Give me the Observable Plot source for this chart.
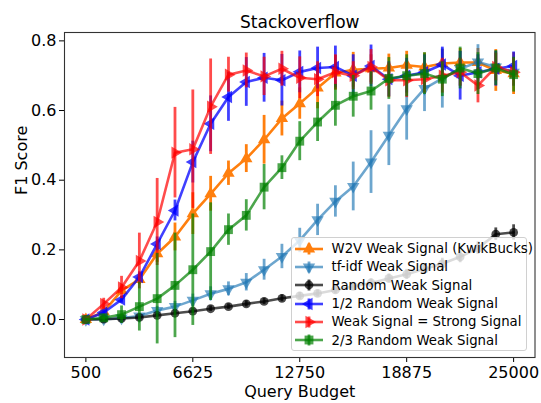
<!DOCTYPE html>
<html>
<head>
<meta charset="utf-8">
<script src="https://cdn.jsdelivr.net/npm/d3@7"></script>
<script src="https://cdn.jsdelivr.net/npm/@observablehq/plot@0.6"></script>
<style>
  body { margin: 0; background: #fff; }
  #chart { position: relative; width: 541px; height: 403px; font-family: "DejaVu Sans", sans-serif; }
  #legend {
    position: absolute; left: 291px; top: 237px; width: 236px; height: 114px;
    box-sizing: border-box; background: rgba(255,255,255,0.8);
    border: 1px solid #d0d0d0; border-radius: 3px; padding: 1.5px 0 0 3px;
    font-size: 13.3px; color: #000; white-space: nowrap;
  }
  .row { display: flex; align-items: center; height: 18.3px; }
  .row svg { width: 28px; height: 18px; margin-right: 8.5px; flex: none; }
</style>
</head>
<body>
<div id="chart"></div>
<script>
// Query budgets (x) shared by every run
const budgets = [500, 1521, 2542, 3563, 4583, 5604, 6625, 7646, 8667, 9688, 10708, 11729, 12750,
  13771, 14792, 15813, 16833, 17854, 18875, 19896, 20917, 21938, 22958, 23979, 25000];

const seriesNames = [
  "W2V Weak Signal (KwikBucks)",
  "tf-idf Weak Signal",
  "Random Weak Signal",
  "1/2 Random Weak Signal",
  "Weak Signal = Strong Signal",
  "2/3 Random Weak Signal"
];

// Mean F1 score and its spread for each weak-signal variant
const f1W2V = [0.0, 0.022, 0.083, 0.115, 0.189, 0.237, 0.304, 0.361, 0.42, 0.462, 0.516, 0.577, 0.62,
  0.665, 0.708, 0.717, 0.72, 0.722, 0.73, 0.725, 0.735, 0.738, 0.738, 0.715, 0.706];
const errW2V = [0.002, 0.008, 0.01, 0.015, 0.025, 0.04, 0.06, 0.05, 0.035, 0.04, 0.07, 0.05, 0.045,
  0.06, 0.05, 0.05, 0.04, 0.04, 0.04, 0.04, 0.04, 0.04, 0.04, 0.06, 0.06];

const f1Tfidf = [0.0, 0.001, 0.004, 0.01, 0.026, 0.037, 0.055, 0.074, 0.088, 0.107, 0.143, 0.181, 0.227,
  0.286, 0.339, 0.382, 0.452, 0.529, 0.605, 0.663, 0.692, 0.72, 0.739, 0.725, 0.71];
const errTfidf = [0.001, 0.002, 0.004, 0.006, 0.012, 0.015, 0.018, 0.02, 0.02, 0.025, 0.03, 0.035, 0.035,
  0.045, 0.045, 0.07, 0.09, 0.087, 0.09, 0.066, 0.085, 0.05, 0.05, 0.04, 0.04];

const f1Random = [0.0, 0.001, 0.003, 0.006, 0.012, 0.018, 0.024, 0.031, 0.037, 0.045, 0.052, 0.061, 0.068,
  0.075, 0.085, 0.095, 0.105, 0.118, 0.13, 0.145, 0.16, 0.18, 0.205, 0.245, 0.25];
const errRandom = [0.001, 0.002, 0.003, 0.004, 0.005, 0.006, 0.007, 0.008, 0.008, 0.009, 0.009, 0.01, 0.01,
  0.01, 0.011, 0.012, 0.012, 0.013, 0.014, 0.015, 0.016, 0.017, 0.018, 0.018, 0.022];

const f1Half = [0.0, 0.02, 0.057, 0.122, 0.217, 0.313, 0.452, 0.562, 0.639, 0.682, 0.694, 0.687, 0.711,
  0.722, 0.725, 0.70, 0.728, 0.69, 0.70, 0.71, 0.732, 0.70, 0.71, 0.72, 0.728];
const errHalf = [0.001, 0.005, 0.01, 0.015, 0.02, 0.03, 0.06, 0.08, 0.07, 0.07, 0.07, 0.074, 0.06,
  0.06, 0.06, 0.06, 0.06, 0.05, 0.05, 0.05, 0.05, 0.07, 0.05, 0.05, 0.04];

const f1Strong = [0.0, 0.045, 0.092, 0.168, 0.28, 0.479, 0.489, 0.611, 0.703, 0.715, 0.698, 0.72, 0.694,
  0.69, 0.71, 0.70, 0.725, 0.687, 0.687, 0.69, 0.70, 0.71, 0.672, 0.725, 0.71];
const errStrong = [0.002, 0.016, 0.032, 0.08, 0.125, 0.13, 0.17, 0.137, 0.05, 0.05, 0.055, 0.05, 0.06,
  0.05, 0.05, 0.04, 0.05, 0.05, 0.05, 0.04, 0.05, 0.04, 0.05, 0.04, 0.04];

const f1TwoThirds = [0.0, 0.005, 0.014, 0.037, 0.06, 0.098, 0.143, 0.195, 0.258, 0.299, 0.38, 0.436, 0.512,
  0.567, 0.615, 0.641, 0.656, 0.692, 0.70, 0.706, 0.69, 0.722, 0.706, 0.722, 0.703];
const errTwoThirds = [0.002, 0.01, 0.025, 0.07, 0.13, 0.15, 0.16, 0.14, 0.045, 0.045, 0.065, 0.034, 0.056,
  0.056, 0.06, 0.06, 0.055, 0.06, 0.06, 0.06, 0.05, 0.06, 0.06, 0.05, 0.05];

const xTicks = [500, 6625, 12750, 18875, 25000];
const yTicks = [0.0, 0.2, 0.4, 0.6, 0.8];

const means = [f1W2V, f1Tfidf, f1Random, f1Half, f1Strong, f1TwoThirds];
const spreads = [errW2V, errTfidf, errRandom, errHalf, errStrong, errTwoThirds];

// Colour, opacity and marker for each run
const looks = [
  {color: "#ff7f0e", alpha: 1.0, symbol: "triangle", rotate: 0, r: 4.6},
  {color: "#1f77b4", alpha: 0.65, symbol: "triangle", rotate: 180, r: 4.6},
  {color: "#000000", alpha: 0.7, symbol: "circle", rotate: 0, r: 4.4},
  {color: "#0000ff", alpha: 0.75, symbol: "triangle", rotate: -90, r: 4.6},
  {color: "#ff0000", alpha: 0.7, symbol: "triangle", rotate: 90, r: 4.6},
  {color: "#008000", alpha: 0.7, symbol: "square", rotate: 0, r: 5.0}
];

const tables = seriesNames.map((name, k) =>
  budgets.map((budget, i) => ({name, budget, f1: means[k][i], err: spreads[k][i]})));

const marks = [];
tables.forEach((rows, k) => {
  const s = looks[k];
  marks.push(
    Plot.ruleX(rows, {x: "budget", y1: d => d.f1 - d.err, y2: d => d.f1 + d.err,
      stroke: s.color, strokeOpacity: s.alpha, strokeWidth: 2.8}),
    Plot.line(rows, {x: "budget", y: "f1", stroke: s.color, strokeOpacity: s.alpha, strokeWidth: 2.6}),
    Plot.dot(rows, {x: "budget", y: "f1", symbol: s.symbol, rotate: s.rotate, r: s.r,
      fill: s.color, fillOpacity: s.alpha, stroke: "none"})
  );
});

marks.push(
  Plot.frame({stroke: "#333", strokeWidth: 1.1}),
  Plot.text(["Stackoverflow"], {frameAnchor: "top", dy: -5, lineAnchor: "bottom", fontSize: 17, fill: "#000"}),
  Plot.text(["Query Budget"], {frameAnchor: "bottom", dy: 39.5, lineAnchor: "bottom", fontSize: 16, fill: "#000"}),
  Plot.text(["F1 Score"], {frameAnchor: "left", dx: -38, rotate: -90, lineAnchor: "bottom", fontSize: 16, fill: "#000"})
);

const chart = Plot.plot({
  width: 541,
  height: 403,
  marginLeft: 64,
  marginRight: 6.5,
  marginTop: 32,
  marginBottom: 46,
  style: {fontFamily: "DejaVu Sans", fontSize: "16px", color: "#000", background: "#fff", overflow: "visible"},
  x: {domain: [-725, 26225], ticks: xTicks, tickFormat: d => String(d), tickSize: 5, tickPadding: 4, label: null},
  y: {domain: [-0.109, 0.824], ticks: yTicks, tickFormat: d3.format(".1f"), tickSize: 5, tickPadding: 3, label: null},
  marks
});

const host = document.getElementById("chart");
host.appendChild(chart);

// Legend box in the lower right of the axes
const legend = document.createElement("div");
legend.id = "legend";
const symbolTypes = {triangle: d3.symbolTriangle, circle: d3.symbolCircle, square: d3.symbolSquare};
seriesNames.forEach((name, k) => {
  const s = looks[k];
  const row = document.createElement("div");
  row.className = "row";
  const path = d3.symbol(symbolTypes[s.symbol], Math.PI * s.r * s.r)();
  row.innerHTML =
    `<svg viewBox="0 0 28 18">` +
    `<line x1="0" x2="28" y1="9" y2="9" stroke="${s.color}" stroke-opacity="${s.alpha}" stroke-width="2.6"/>` +
    `<line x1="14" x2="14" y1="3.5" y2="14.5" stroke="${s.color}" stroke-opacity="${s.alpha}" stroke-width="2.8"/>` +
    `<path d="${path}" transform="translate(14,9) rotate(${s.rotate})" fill="${s.color}" fill-opacity="${s.alpha}"/>` +
    `</svg><span>${name}</span>`;
  legend.appendChild(row);
});
host.appendChild(legend);
</script>
</body>
</html>
